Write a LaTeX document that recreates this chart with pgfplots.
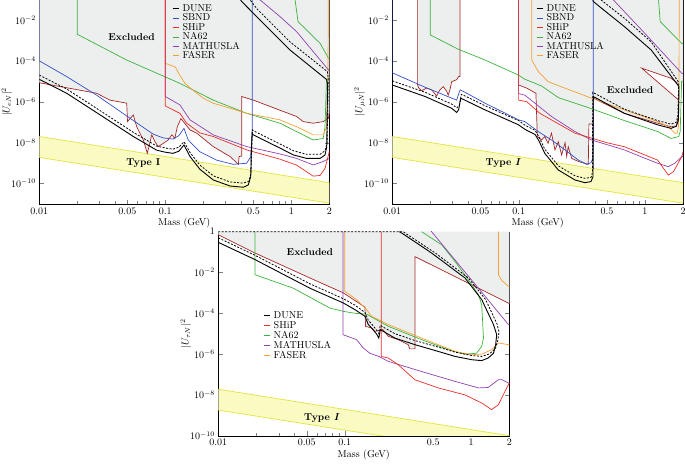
\documentclass[border=0pt]{standalone}
\usepackage{pgfplots}
\pgfplotsset{compat=1.18}
\definecolor{cSBND}{RGB}{50,80,200}
\definecolor{cSHiP}{RGB}{235,45,40}
\definecolor{cNA}{RGB}{60,180,60}
\definecolor{cMATH}{RGB}{145,65,175}
\definecolor{cFASER}{RGB}{245,160,50}
\definecolor{cBrown}{RGB}{165,40,40}
\definecolor{cGrey}{RGB}{236,239,238}
\definecolor{cYfill}{RGB}{250,250,195}
\definecolor{cYline}{RGB}{228,228,60}
\begin{document}
\begin{tikzpicture}
\useasboundingbox (0,0) rectangle (685pt,463pt);
% ================= Top left: U_eN =================
\begin{axis}[xmode=log, ymode=log, scale only axis, width=290pt, height=204.5pt,
  at={(39.3pt,259pt)}, anchor=south west,
  xmin=0.01, xmax=2, ymin=1e-11, ymax=0.1,
  xtick={0.01,0.05,0.1,0.5,1,2}, xticklabels={0.01,0.05,0.1,0.5,1,2},
  minor xtick={0.02,0.03,0.04,0.06,0.07,0.08,0.09,0.2,0.3,0.4,0.6,0.7,0.8,0.9},
  xtick pos=bottom,
  ytick={1e-10,1e-8,1e-6,1e-4,1e-2},
  tick align=inside,
  xlabel={Mass (GeV)}, ylabel={$|U_{eN}|^2$},
  xlabel style={yshift=3pt}, ylabel style={yshift=-8pt},
  legend cell align=left,
  legend image code/.code={\draw[#1] (0pt,0pt) -- (6.5pt,0pt);},
  legend style={draw=none, fill=none, at={(0.447,0.99)}, anchor=north west,
    nodes={inner sep=1pt}, row sep=-1.2pt, column sep=2pt}]
\addlegendimage{black, line width=0.9pt}\addlegendentry{DUNE}
\addlegendimage{cSBND, line width=0.7pt}\addlegendentry{SBND}
\addlegendimage{cSHiP, line width=0.7pt}\addlegendentry{SHiP}
\addlegendimage{cNA, line width=0.7pt}\addlegendentry{NA62}
\addlegendimage{cMATH, line width=0.7pt}\addlegendentry{MATHUSLA}
\addlegendimage{cFASER, line width=0.7pt}\addlegendentry{FASER}
\addplot[fill=cGrey, draw=none, forget plot] coordinates {
(0.01,8.5e-6)(0.0285,2.6e-6)(0.0364,1.2e-6)(0.0494,8.5e-7)(0.0501,1.07e-7)
(0.0557,2.26e-7)(0.0593,6e-8)(0.0669,1.35e-8)(0.072,3e-9)(0.078,2.4e-8)
(0.0828,1.1e-8)(0.088,6.4e-9)(0.0964,9.3e-9)(0.1056,1.35e-8)(0.1124,2.4e-8)
(0.119,1.65e-8)(0.1245,6e-8)(0.133,1.5e-7)(0.157,4.2e-8)(0.1775,2.9e-8)
(0.24,6.4e-9)(0.326,2.1e-9)(0.38,8.7e-10)(0.385,2.1e-9)(0.404,2.2e-9)
(0.404,1.8e-6)(0.499,1.2e-6)(1.10,1.9e-7)(1.24,1.07e-7)(1.49,8.9e-8)
(1.79,1.07e-7)(1.97,1.55e-7)(2,3e-7)(2,1)(0.01,1)} -- cycle;
\addplot[fill=cYfill, draw=none, forget plot] coordinates {
(0.01,2e-8)(2,1.1e-10)(2,1.1e-11)(0.01,1.9e-9)} -- cycle;
\addplot[cYline, line width=0.7pt, forget plot] coordinates {(0.01,2e-8)(2,1.1e-10)};
\addplot[cYline, line width=0.7pt, forget plot] coordinates {(0.01,1.9e-9)(2,1.1e-11)};
\addplot[cBrown, line width=0.7pt, forget plot] coordinates {
(0.01,8.5e-6)(0.0285,2.6e-6)(0.0364,1.2e-6)(0.0494,8.5e-7)(0.0501,1.07e-7)
(0.0557,2.26e-7)(0.0593,6e-8)(0.0669,1.35e-8)(0.072,3e-9)(0.078,2.4e-8)
(0.0828,1.1e-8)(0.088,6.4e-9)(0.0964,9.3e-9)(0.1056,1.35e-8)(0.1124,2.4e-8)
(0.119,1.65e-8)(0.1245,6e-8)(0.133,1.5e-7)(0.157,4.2e-8)(0.1775,2.9e-8)
(0.24,6.4e-9)(0.326,2.1e-9)(0.38,8.7e-10)(0.385,2.1e-9)(0.404,2.2e-9)
(0.404,1.8e-6)(0.499,1.2e-6)(1.10,1.9e-7)(1.24,1.07e-7)(1.49,8.9e-8)
(1.79,1.07e-7)(1.97,1.55e-7)(2,3e-7)};
\addplot[cNA, line width=0.7pt, forget plot] coordinates {
(0.02,1)(0.02,2e-3)(0.0493,1.1e-4)(0.1307,7.9e-6)(0.24,1.2e-6)(0.443,2.7e-7)
(0.813,8.9e-8)(1.49,1.35e-8)(1.79,1.6e-8)(1.85,6e-8)(1.9,1.2e-5)(2.0,1.5e-5)
(2.2,1.5e-5)(2.2,1e-4)(1.97,1.35e-4)(1.69,7.2e-4)(1.13,8.3e-3)(1.07,0.095)(1.06,1)};
\addplot[cFASER, line width=0.7pt, forget plot] coordinates {
(0.1,1)(0.1,7.6e-5)(0.12,5e-5)(0.13,2e-5)(0.143,8e-6)(0.167,3.5e-6)(0.2,1.5e-6)
(0.24,8.5e-7)(0.443,2.7e-7)(0.813,1.3e-7)(1.1,6e-8)(1.49,2.4e-8)(1.79,2.4e-8)
(1.91,6.3e-8)(1.95,1e-5)(1.97,1)};
\addplot[cMATH, line width=0.7pt, forget plot] coordinates {
(0.1,1)(0.1,1.8e-6)(0.1306,7e-7)(0.157,1.3e-7)(0.24,2.4e-8)(0.443,6.4e-9)
(0.813,2.8e-9)(1.1,1.7e-9)(1.49,8.1e-10)(1.79,1.2e-9)(2.0,1.7e-9)(2.2,3e-9)
(2.2,2e-5)(1.97,3.6e-5)(1.1,2.7e-3)(0.813,1.45e-2)(0.564,0.096)(0.5,0.5)};
\addplot[cSHiP, line width=0.7pt, forget plot] coordinates {
(0.1,1)(0.1,6.2e-7)(0.1307,2.7e-7)(0.1475,9e-8)(0.188,3e-8)(0.24,2e-8)
(0.443,4.4e-9)(0.813,1.55e-9)(1.1,8e-10)(1.49,2.3e-10)(1.69,2.5e-10)
(1.85,5.5e-10)(2.0,3.6e-9)(2.1,1e-8)};
\addplot[cSBND, line width=0.7pt, forget plot] coordinates {
(0.01,1)(0.01,1e-4)(0.0165,1.7e-5)(0.0285,2.1e-6)(0.0525,1.55e-7)(0.0802,2.6e-8)
(0.0964,1.7e-8)(0.115,1.5e-8)(0.128,2.2e-8)(0.1406,5e-8)(0.152,1.35e-8)
(0.188,3.6e-9)(0.255,1.4e-9)(0.346,8.7e-10)(0.441,9.8e-10)(0.475,2e-9)
(0.49,3e-8)(0.49,1)};
\addplot[black, line width=0.8pt, dash pattern=on 2pt off 1.5pt, forget plot] coordinates {
(0.01,2e-5)(0.0165,4.2e-6)(0.0303,3.7e-7)(0.0557,3.2e-8)(0.0853,6.8e-9)
(0.1,5.5e-9)(0.115,4.8e-9)(0.128,6e-9)(0.1406,1.1e-8)(0.157,3.3e-9)
(0.188,8e-10)(0.24,2.4e-10)(0.326,1.2e-10)(0.416,1.05e-10)(0.46,1.3e-10)
(0.478,3e-10)(0.484,4e-9)(0.49,4.2e-8)(0.5,3.8e-8)(0.813,8.6e-9)(1.04,4e-9)
(1.32,2.7e-9)(1.69,2.7e-9)(1.85,4e-9)(1.92,1e-8)(1.95,1.5e-6)(1.96,1.5e-5)
(1.93,3e-5)(0.975,8.5e-4)(0.531,3.6e-2)(0.43,0.2)(0.38,0.6)};
\addplot[black, line width=0.9pt, forget plot] coordinates {
(0.01,1.25e-5)(0.0165,2.6e-6)(0.0303,2.3e-7)(0.0557,2e-8)(0.0853,4.3e-9)
(0.1,3.4e-9)(0.115,3e-9)(0.128,3.8e-9)(0.1406,7.7e-9)(0.157,2.1e-9)
(0.188,5e-10)(0.24,1.5e-10)(0.326,7.6e-11)(0.416,6.6e-11)(0.455,8.5e-11)
(0.476,2.2e-10)(0.481,3e-9)(0.488,2.9e-8)(0.499,2.4e-8)(0.813,5.4e-9)
(1.04,2.5e-9)(1.32,1.7e-9)(1.69,1.7e-9)(1.85,2.5e-9)(1.91,6.3e-9)
(1.93,1.2e-6)(1.94,6.6e-6)(1.91,1.2e-5)(0.975,3.4e-4)(0.531,1.45e-2)
(0.404,7.9e-2)(0.35,0.3)};
\node[font=\bfseries] at (axis cs:0.054,1.5e-3) {Excluded};
\node[font=\bfseries] at (axis cs:0.0668,9.8e-10) {Type I};
\end{axis}
% ================= Top right: U_muN =================
\begin{axis}[xmode=log, ymode=log, scale only axis, width=290.7pt, height=204.5pt,
  at={(392.3pt,259pt)}, anchor=south west,
  xmin=0.01, xmax=2, ymin=1e-11, ymax=0.1,
  xtick={0.01,0.05,0.1,0.5,1,2}, xticklabels={0.01,0.05,0.1,0.5,1,2},
  minor xtick={0.02,0.03,0.04,0.06,0.07,0.08,0.09,0.2,0.3,0.4,0.6,0.7,0.8,0.9},
  xtick pos=bottom,
  ytick={1e-10,1e-8,1e-6,1e-4,1e-2},
  tick align=inside,
  xlabel={Mass (GeV)}, ylabel={$|U_{\mu N}|^2$},
  xlabel style={yshift=3pt}, ylabel style={yshift=-8pt},
  legend cell align=left,
  legend image code/.code={\draw[#1] (0pt,0pt) -- (6.5pt,0pt);},
  legend style={draw=none, fill=none, at={(0.484,0.99)}, anchor=north west,
    nodes={inner sep=1pt}, row sep=-1.2pt, column sep=2pt}]
\addlegendimage{black, line width=0.9pt}\addlegendentry{DUNE}
\addlegendimage{cSBND, line width=0.7pt}\addlegendentry{SBND}
\addlegendimage{cSHiP, line width=0.7pt}\addlegendentry{SHiP}
\addlegendimage{cNA, line width=0.7pt}\addlegendentry{NA62}
\addlegendimage{cMATH, line width=0.7pt}\addlegendentry{MATHUSLA}
\addlegendimage{cFASER, line width=0.7pt}\addlegendentry{FASER}
\addplot[fill=cGrey, draw=none, forget plot] coordinates {
(0.0158,1)(0.0158,7e-6)(0.0162,4.6e-6)(0.0171,3.5e-6)(0.0187,4.6e-6)(0.0205,3.8e-6)
(0.0224,1.9e-6)(0.0238,3.8e-6)(0.0253,5.5e-6)(0.027,3.2e-6)(0.0277,2.1e-6)
(0.0286,3.8e-6)(0.0295,9.6e-6)(0.0323,1.2e-5)(0.0335,1.7e-5)(0.0344,1.7e-5)
(0.0344,1)} -- cycle;
\addplot[fill=cGrey, draw=none, forget plot] coordinates {
(0.1,1)(0.1,6.6e-6)(0.116,4.6e-6)(0.137,2.6e-6)(0.1406,2e-8)(0.152,1.35e-8)
(0.161,2e-8)(0.171,9.3e-9)(0.182,2.9e-8)(0.194,4.4e-9)(0.206,1.1e-8)
(0.219,2.5e-9)(0.233,1e-8)(0.240,2.1e-9)(0.247,6.3e-9)(0.263,1.7e-9)
(0.297,1.2e-9)(0.356,8.7e-10)(0.36,8.1e-8)(0.39,8.1e-8)(0.39,1.5e-6)
(0.688,2.7e-7)(1.26,8.9e-8)(1.61,6e-8)(1.77,6.6e-8)(1.84,1.9e-7)
(1.85,1.2e-6)(1.86,8e-6)(2,8e-6)(2,1)} -- cycle;
\addplot[fill=white, draw=none, forget plot] coordinates {
(0.942,4.4e-5)(1.61,1.4e-5)(1.81,8e-6)(1.86,5.5e-6)(1.85,1.2e-6)} -- cycle;
\addplot[fill=cYfill, draw=none, forget plot] coordinates {
(0.01,2e-8)(2,1.1e-10)(2,1.1e-11)(0.01,1.9e-9)} -- cycle;
\addplot[cYline, line width=0.7pt, forget plot] coordinates {(0.01,2e-8)(2,1.1e-10)};
\addplot[cYline, line width=0.7pt, forget plot] coordinates {(0.01,1.9e-9)(2,1.1e-11)};
\addplot[cBrown, line width=0.7pt, forget plot] coordinates {
(0.0158,1)(0.0158,7e-6)(0.0162,4.6e-6)(0.0171,3.5e-6)(0.0187,4.6e-6)(0.0205,3.8e-6)
(0.0224,1.9e-6)(0.0238,3.8e-6)(0.0253,5.5e-6)(0.027,3.2e-6)(0.0277,2.1e-6)
(0.0286,3.8e-6)(0.0295,9.6e-6)(0.0323,1.2e-5)(0.0335,1.7e-5)(0.0344,1.7e-5)
(0.0344,1)};
\addplot[cBrown, line width=0.7pt, forget plot] coordinates {
(0.1,1)(0.1,6.6e-6)(0.116,4.6e-6)(0.137,2.6e-6)(0.1406,2e-8)(0.152,1.35e-8)
(0.161,2e-8)(0.171,9.3e-9)(0.182,2.9e-8)(0.194,4.4e-9)(0.206,1.1e-8)
(0.219,2.5e-9)(0.233,1e-8)(0.240,2.1e-9)(0.247,6.3e-9)(0.263,1.7e-9)
(0.297,1.2e-9)(0.356,8.7e-10)(0.36,8.1e-8)(0.39,8.1e-8)(0.39,1.5e-6)
(0.688,2.7e-7)(1.26,8.9e-8)(1.61,6e-8)(1.77,6.6e-8)(1.84,1.9e-7)
(1.85,1.2e-6)(0.942,4.4e-5)(1.61,1.4e-5)(1.81,8e-6)};
\addplot[cNA, line width=0.7pt, forget plot] coordinates {
(0.02,1)(0.02,1.85e-3)(0.0333,3.7e-4)(0.0542,1.1e-4)(0.1,2e-5)(0.112,1.26e-5)
(0.152,5.9e-6)(0.206,1.6e-6)(0.38,4.5e-7)(0.688,1.2e-7)(1.26,3.5e-8)
(1.61,1.6e-8)(1.85,2e-8)(1.9,3.5e-8)(1.95,1e-5)(2.2,1e-5)(2.2,5e-4)
(1.95,7.2e-4)(1.32,8.3e-3)(1.28,0.095)(1.27,1)};
\addplot[cFASER, line width=0.7pt, forget plot] coordinates {
(0.127,1)(0.127,1.1e-4)(0.143,3e-5)(0.171,9.6e-6)(0.233,4.6e-6)(0.378,1.5e-6)
(0.688,4e-7)(1.26,1.07e-7)(1.53,6e-8)(1.72,2.9e-8)(1.8,2.9e-8)(1.84,6e-8)
(1.86,1e-5)(1.87,1)};
\addplot[cMATH, line width=0.7pt, forget plot] coordinates {
(0.1,1)(0.1,2.5e-6)(0.112,2.1e-6)(0.1347,8.5e-7)(0.182,1.9e-7)(0.279,3.5e-8)
(0.378,1.35e-8)(0.688,4.4e-9)(0.94,2e-9)(1.26,9.8e-10)(1.53,6.7e-10)
(1.72,9.8e-10)(1.95,2e-9)(2.2,3e-9)(2.2,2e-5)(1.95,2.5e-5)(0.943,3.2e-3)
(0.562,0.095)(0.5,0.5)};
\addplot[cSHiP, line width=0.7pt, forget plot] coordinates {
(0.1,1)(0.1,1.2e-6)(0.116,1e-6)(0.1475,2.7e-7)(0.279,2.9e-8)(0.498,1e-8)
(0.688,6.3e-9)(1.26,1.4e-9)(1.53,2.6e-10)(1.68,3.8e-10)(1.95,2e-9)(2.1,1e-8)};
\addplot[cSBND, line width=0.7pt, forget plot] coordinates {
(0.01,1)(0.01,2.6e-5)(0.0182,5.1e-6)(0.0323,1.2e-6)(0.0344,3.8e-6)(0.0365,3.2e-6)
(0.0542,8.5e-7)(0.1,1.3e-7)(0.112,1.07e-7)(0.143,3.5e-8)(0.182,1.35e-8)
(0.233,4.4e-9)(0.297,1.4e-9)(0.345,8.7e-10)(0.374,1.05e-9)(0.386,1.7e-9)
(0.39,1e-8)(0.39,1)};
\addplot[black, line width=0.8pt, dash pattern=on 2pt off 1.5pt, forget plot] coordinates {
(0.01,1.05e-5)(0.0182,2.9e-6)(0.0295,7.7e-7)(0.0325,5e-7)(0.034,7e-7)
(0.0352,2.3e-6)(0.0365,2.1e-6)(0.0542,6.4e-7)(0.1,1.2e-7)(0.112,7.2e-8)
(0.135,4e-8)(0.145,1.9e-8)(0.161,4.8e-9)(0.206,7.4e-10)(0.279,2.4e-10)
(0.335,1.8e-10)(0.374,2e-10)(0.384,3.5e-10)(0.386,2.9e-6)(0.688,4.3e-7)
(1.26,1.2e-7)(1.61,8e-8)(1.77,1e-7)(1.82,2e-7)(1.85,8.8e-6)(1.12,8.5e-4)
(0.688,1.2e-2)(0.454,9e-2)(0.4,0.3)};
\addplot[black, line width=0.9pt, forget plot] coordinates {
(0.01,6.6e-6)(0.0182,1.8e-6)(0.0295,4.8e-7)(0.0323,3e-7)(0.0335,4e-7)
(0.0348,1.5e-6)(0.0365,1.3e-6)(0.0542,4e-7)(0.1,7.4e-8)(0.112,4.5e-8)
(0.135,2.5e-8)(0.145,1.2e-8)(0.161,3e-9)(0.206,4.6e-10)(0.279,1.5e-10)
(0.335,1.1e-10)(0.374,1.25e-10)(0.388,2.2e-10)(0.39,1.8e-6)(0.688,2.7e-7)
(1.26,7.4e-8)(1.61,5e-8)(1.77,6.3e-8)(1.84,1.3e-7)(1.86,5.5e-6)(1.12,3.4e-4)
(0.688,4.7e-3)(0.454,3.7e-2)(0.39,8e-2)(0.37,0.3)};
\node[font=\bfseries] at (axis cs:0.762,3.8e-6) {Excluded};
\node[font=\bfseries] at (axis cs:0.0757,9.8e-10) {Type \textit{I}};
\end{axis}
% ================= Bottom: U_tauN =================
\begin{axis}[xmode=log, ymode=log, scale only axis, width=291pt, height=204pt,
  at={(218.3pt,27.3pt)}, anchor=south west,
  xmin=0.01, xmax=2, ymin=1e-10, ymax=1,
  xtick={0.01,0.05,0.1,0.5,1,2}, xticklabels={0.01,0.05,0.1,0.5,1,2},
  minor xtick={0.02,0.03,0.04,0.06,0.07,0.08,0.09,0.2,0.3,0.4,0.6,0.7,0.8,0.9},
  ytick={1e-10,1e-8,1e-6,1e-4,1e-2,1},
  yticklabels={$10^{-10}$,$10^{-8}$,$10^{-6}$,$10^{-4}$,$10^{-2}$,$1$},
  tick align=inside,
  xlabel={Mass (GeV)}, ylabel={$|U_{\tau N}|^2$},
  xlabel style={yshift=3pt}, ylabel style={yshift=-8pt},
  legend cell align=left,
  legend image code/.code={\draw[#1] (0pt,0pt) -- (6.5pt,0pt);},
  legend style={draw=none, fill=none, at={(0.143,0.625)}, anchor=north west,
    nodes={inner sep=1pt}, row sep=-0.6pt, column sep=2pt}]
\addlegendimage{black, line width=1.1pt}\addlegendentry{DUNE}
\addlegendimage{cSHiP, line width=0.7pt}\addlegendentry{SHiP}
\addlegendimage{cNA, line width=0.7pt}\addlegendentry{NA62}
\addlegendimage{cMATH, line width=0.7pt}\addlegendentry{MATHUSLA}
\addlegendimage{cFASER, line width=0.7pt}\addlegendentry{FASER}
\addplot[fill=cGrey, draw=none, forget plot] coordinates {
(0.01,0.71)(0.0195,0.09)(0.053,5.4e-3)(0.0974,1e-3)(0.1445,2e-4)(0.146,2.3e-5)
(0.163,1.9e-5)(0.173,1.3e-5)(0.2,1.6e-5)(0.221,7.4e-6)(0.265,5.1e-6)
(0.318,2.9e-6)(0.326,1.8e-6)(0.359,1.8e-6)(0.359,0.06)(2,3e-4)(2,1)(0.01,1)} -- cycle;
\addplot[fill=cYfill, draw=none, forget plot] coordinates {
(0.01,1.9e-8)(2,1e-10)(2,1e-11)(0.01,1.8e-9)} -- cycle;
\addplot[cYline, line width=0.7pt, forget plot] coordinates {(0.01,1.9e-8)(2,1e-10)};
\addplot[cYline, line width=0.7pt, forget plot] coordinates {(0.01,1.8e-9)(2,1e-11)};
\addplot[cBrown, line width=0.7pt, forget plot] coordinates {
(0.01,0.71)(0.0195,0.09)(0.053,5.4e-3)(0.0974,1e-3)(0.1445,2e-4)(0.146,2.3e-5)
(0.163,1.9e-5)(0.173,1.3e-5)(0.2,1.6e-5)(0.221,7.4e-6)(0.265,5.1e-6)
(0.318,2.9e-6)(0.326,1.8e-6)(0.359,1.8e-6)(0.359,0.06)(2,3e-4)};
\addplot[cNA, line width=0.7pt, forget plot] coordinates {
(0.0195,1)(0.0195,7.8e-3)(0.0392,1.7e-3)(0.0764,1.8e-4)(0.0974,1.25e-4)
(0.1205,1e-4)(0.149,9e-5)(0.221,2.3e-5)(0.405,5.1e-6)(0.659,1.65e-6)
(0.892,1e-6)(1.10,1.1e-6)(1.21,2.4e-6)(1.25,6.1e-6)(1.21,2.6e-4)
(1.14,8.2e-4)(1.01,2.5e-3)(0.745,0.035)(0.583,0.23)(0.405,1)};
\addplot[cFASER, line width=0.7pt, forget plot] coordinates {
(0.1,1)(0.1,1.2e-3)(0.124,4.7e-4)(0.149,1.5e-4)(0.163,7.1e-5)(0.221,2.8e-5)
(0.405,6.1e-6)(0.745,1.35e-6)(1.01,9.3e-7)(1.21,1e-6)(1.45,1.65e-6)
(1.64,3.5e-6)(1.97,2.9e-6)(2.2,2.5e-6)(2.2,2e-3)(1.97,2.1e-3)(1.75,4e-3)
(1.64,7.8e-3)(1.64,1)};
\addplot[cMATH, line width=0.7pt, forget plot] coordinates {
(0.097,1)(0.097,8.9e-6)(0.124,5.1e-6)(0.14,2e-6)(0.158,1.1e-6)(0.186,7.7e-7)
(0.221,4.4e-7)(0.405,1.4e-7)(0.745,4.6e-8)(1.14,2.2e-8)(1.36,2.3e-8)
(1.64,5.6e-8)(1.75,5.6e-8)(1.97,3.8e-8)(2.2,3e-8)(2.2,2.5e-5)(1.97,2.8e-5)
(0.486,1)(0.45,3)};
\addplot[cSHiP, line width=0.7pt, forget plot] coordinates {
(0.194,1)(0.194,7.7e-7)(0.221,6.4e-7)(0.265,3e-7)(0.359,5.5e-8)(0.549,2.2e-8)
(0.892,1e-8)(1.21,4e-9)(1.45,1.9e-9)(1.64,3.3e-9)(1.85,1.5e-8)(1.97,3.2e-8)
(2.1,6e-8)};
\addplot[black, line width=0.8pt, dash pattern=on 2pt off 1.5pt, forget plot] coordinates {
(0.01,0.5)(0.0195,7e-2)(0.053,2.8e-3)(0.0974,5.2e-4)(0.1205,2.5e-4)(0.1445,1.1e-4)
(0.1535,4.5e-5)(0.163,3e-5)(0.1786,1.5e-5)(0.186,1e-5)(0.191,2.6e-5)
(0.2016,2.1e-5)(0.249,1e-5)(0.359,4.6e-6)(0.549,2.2e-6)(0.745,1.25e-6)
(1.01,8.5e-7)(1.21,7.7e-7)(1.38,1e-6)(1.55,1.8e-6)(1.62,4.6e-6)(1.66,1.2e-5)
(1.6,3e-5)(1.3,4.7e-4)(0.95,5.4e-3)(0.52,0.09)(0.3,0.86)(0.29,1)(0.01,1)};
\addplot[black, line width=0.9pt, forget plot] coordinates {
(0.01,0.3)(0.0195,4.3e-2)(0.053,1.7e-3)(0.0974,3.2e-4)(0.1205,1.5e-4)
(0.1445,7.1e-5)(0.1535,2.8e-5)(0.163,1.9e-5)(0.1786,9.6e-6)(0.186,6.1e-6)
(0.191,1.6e-5)(0.2016,1.3e-5)(0.249,6.1e-6)(0.359,2.9e-6)(0.549,1.35e-6)
(0.745,7.7e-7)(1.01,5.3e-7)(1.21,4.8e-7)(1.36,6.4e-7)(1.50,1.1e-6)
(1.56,2.9e-6)(1.59,9e-6)(1.5,2.8e-5)(1.21,4.7e-4)(0.892,5.4e-3)(0.486,0.09)
(0.282,0.86)(0.27,1)};
\node[font=\bfseries] at (axis cs:0.053,0.105) {Excluded};
\node[font=\bfseries] at (axis cs:0.066,7.6e-10) {Type \textit{I}};
\end{axis}
\end{tikzpicture}
\end{document}
